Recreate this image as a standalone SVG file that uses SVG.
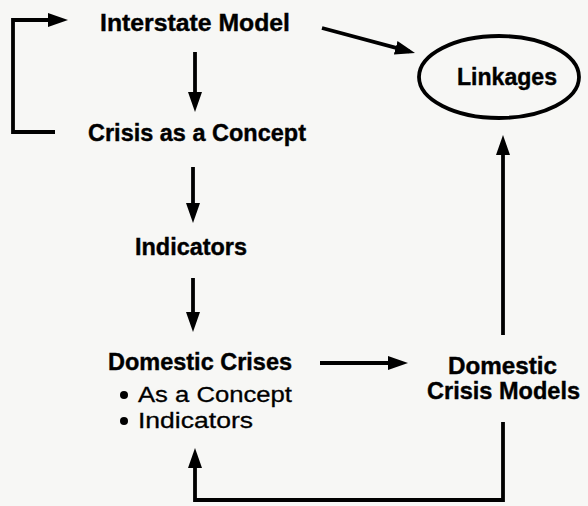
<svg xmlns="http://www.w3.org/2000/svg" width="588" height="506" viewBox="0 0 588 506">
<defs>
<marker id="ah" markerUnits="userSpaceOnUse" markerWidth="22" markerHeight="16" refX="14" refY="7" orient="auto">
<path d="M0,0 L20,7 L0,14 z" fill="#000"/>
</marker>
<style>
.b{font-family:"Liberation Sans",Arial,sans-serif;font-weight:bold;font-size:24px;fill:#000;stroke:#000;stroke-width:0.4}
.r{font-family:"Liberation Sans",Arial,sans-serif;font-size:22px;fill:#000;stroke:#000;stroke-width:0.3}
.c{fill:none;stroke:#000;stroke-width:3.8;marker-end:url(#ah)}
.n{fill:none;stroke:#000;stroke-width:3.8}
</style>
</defs>
<rect width="588" height="506" fill="#f7f7f5"/>
<g id="interstate"><text class="b" x="100" y="31" textLength="190" lengthAdjust="spacingAndGlyphs">Interstate Model</text></g>
<g id="crisis-concept"><text class="b" x="88" y="141" textLength="218" lengthAdjust="spacingAndGlyphs">Crisis as a Concept</text></g>
<g id="indicators"><text class="b" x="135" y="255" textLength="112" lengthAdjust="spacingAndGlyphs">Indicators</text></g>
<g id="linkages">
<ellipse class="n" cx="499" cy="77" rx="80" ry="41"/>
<text class="b" x="457" y="85" textLength="100" lengthAdjust="spacingAndGlyphs">Linkages</text>
</g>
<g id="domestic-crises">
<text class="b" x="108" y="370" textLength="184" lengthAdjust="spacingAndGlyphs">Domestic Crises</text>
<circle cx="124" cy="395" r="4"/>
<text class="r" x="138" y="402" textLength="154" lengthAdjust="spacingAndGlyphs">As a Concept</text>
<circle cx="124" cy="421" r="4"/>
<text class="r" x="138" y="428" textLength="115" lengthAdjust="spacingAndGlyphs">Indicators</text>
</g>
<g id="domestic-models">
<text class="b" x="448" y="374" textLength="109" lengthAdjust="spacingAndGlyphs">Domestic</text>
<text class="b" x="427" y="399" textLength="153" lengthAdjust="spacingAndGlyphs">Crisis Models</text>
</g>
<g id="connectors">
<path class="c" d="M55,132 H13 V20 H62"/>
<path class="c" d="M322,28 L409.2,51.4"/>
<path class="c" d="M195,52 V106"/>
<path class="c" d="M193,167 V217"/>
<path class="c" d="M193,278 V326"/>
<path class="c" d="M320,363 H402"/>
<path class="c" d="M503,335 V141"/>
<path class="c" d="M503,422 V500 H195 V454"/>
</g>
</svg>
